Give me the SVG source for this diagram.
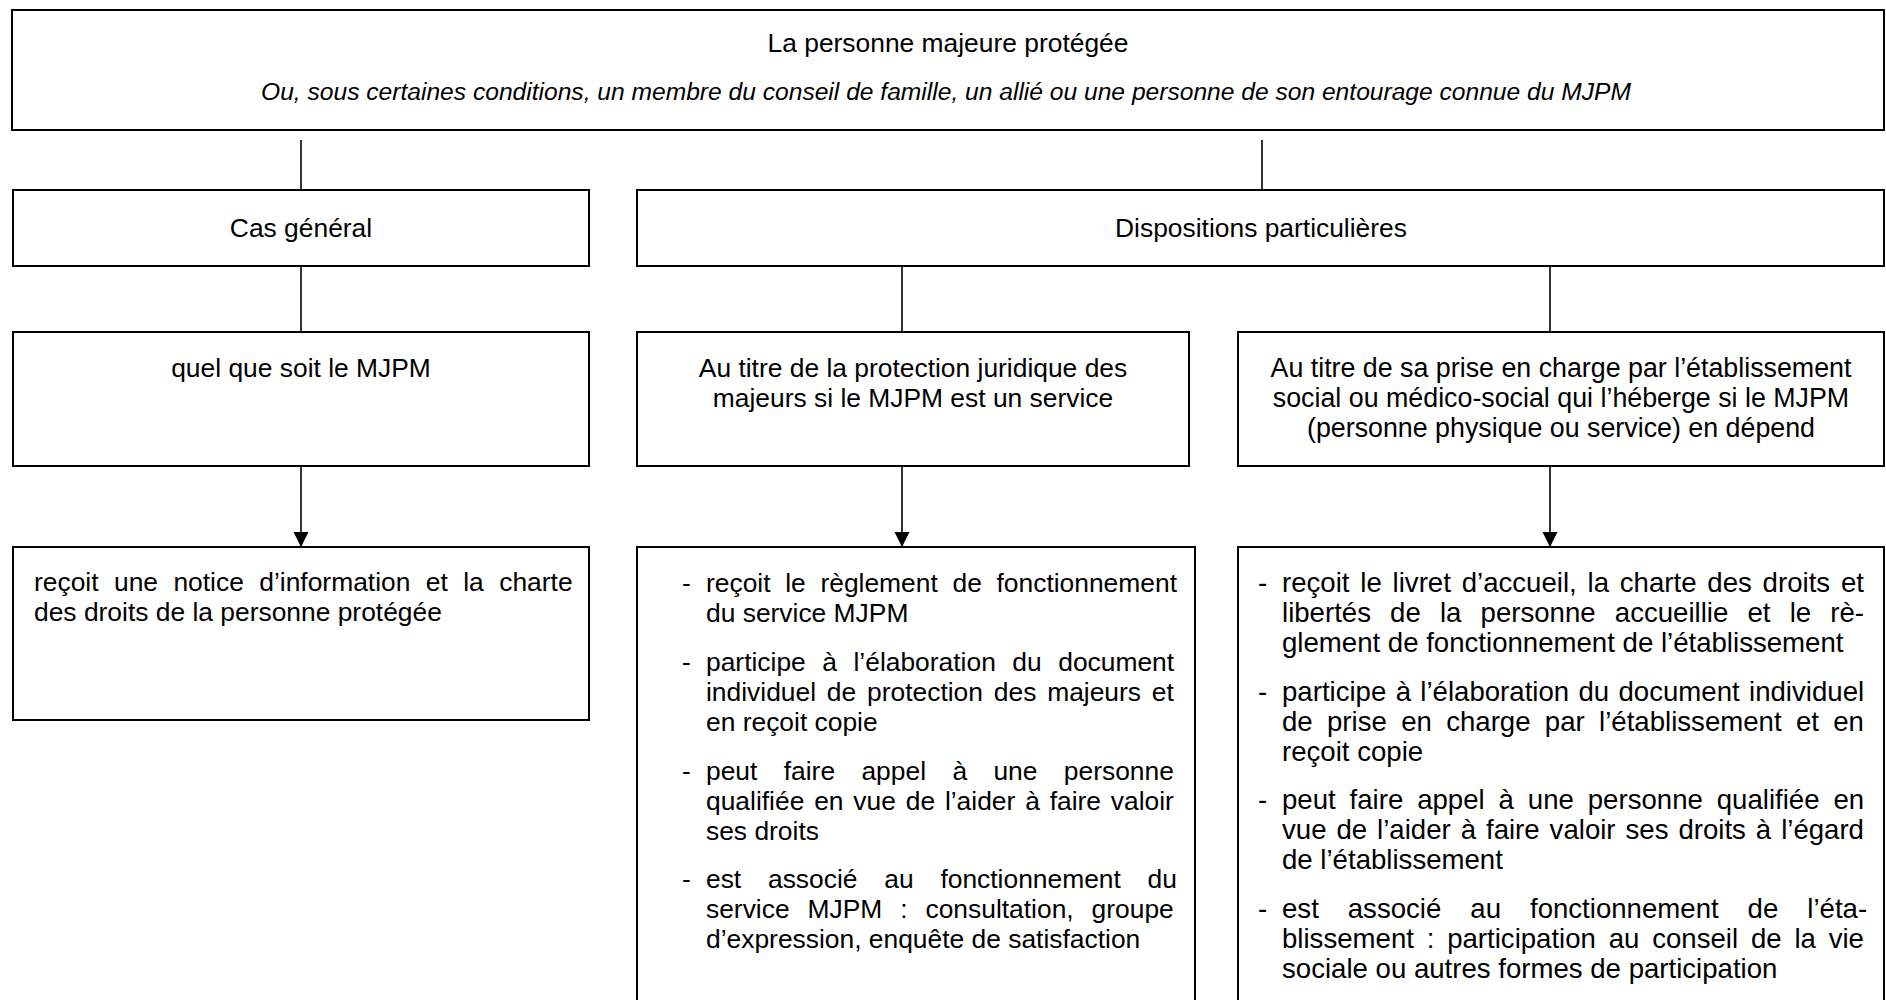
<svg xmlns="http://www.w3.org/2000/svg" width="1886" height="1000" viewBox="0 0 1886 1000">
<style>
.box{fill:#fff;stroke:#000;stroke-width:2}
.t{font-family:"Liberation Sans",Arial,sans-serif;font-size:26.4px;fill:#000;font-kerning:none}
.c{text-anchor:middle}
.i{font-style:italic;font-size:24.6px}
.b3{font-size:27.6px}
.ln{stroke:#000;stroke-width:1.6;fill:none}
</style>
<defs>
<marker id="ah" markerUnits="userSpaceOnUse" markerWidth="16" markerHeight="16" refX="15" refY="7.5" orient="auto">
<path d="M0,0 L15,7.5 L0,15 Z" fill="#000"/>
</marker>
</defs>
<rect width="1886" height="1000" fill="#fff"/>
<g id="connectors">
<line class="ln" x1="301" y1="140" x2="301" y2="189"/>
<line class="ln" x1="1262" y1="140" x2="1262" y2="189"/>
<line class="ln" x1="301" y1="266" x2="301" y2="332"/>
<line class="ln" x1="902" y1="266" x2="902" y2="332"/>
<line class="ln" x1="1550" y1="266" x2="1550" y2="332"/>
<line class="ln" x1="301" y1="466" x2="301" y2="547" marker-end="url(#ah)"/>
<line class="ln" x1="902" y1="466" x2="902" y2="547" marker-end="url(#ah)"/>
<line class="ln" x1="1550" y1="466" x2="1550" y2="547" marker-end="url(#ah)"/>
</g>
<g id="top">
<rect class="box" x="12" y="10" width="1872" height="120"/>
<text class="t c" x="948" y="52">La personne majeure protégée</text>
<text class="t c i" x="946" y="100">Ou, sous certaines conditions, un membre du conseil de famille, un allié ou une personne de son entourage connue du MJPM</text>
</g>
<g id="cas-general">
<rect class="box" x="13" y="190" width="576" height="76"/>
<text class="t c" x="301" y="237">Cas général</text>
</g>
<g id="dispositions">
<rect class="box" x="637" y="190" width="1247" height="76"/>
<text class="t c" x="1261" y="237">Dispositions particulières</text>
</g>
<g id="quel-que-soit">
<rect class="box" x="13" y="332" width="576" height="134"/>
<text class="t c" x="301" y="377">quel que soit le MJPM</text>
</g>
<g id="protection-juridique">
<rect class="box" x="637" y="332" width="552" height="134"/>
<text class="t c" x="913" y="377">Au titre de la protection juridique des</text>
<text class="t c" x="913" y="407">majeurs si le MJPM est un service</text>
</g>
<g id="etablissement">
<rect class="box" x="1238" y="332" width="646" height="134"/>
<text class="t c" x="1561" y="377" style="font-size:26.8px">Au titre de sa prise en charge par l’établissement</text>
<text class="t c" x="1561" y="407" style="font-size:26.8px">social ou médico-social qui l’héberge si le MJPM</text>
<text class="t c" x="1561" y="437" style="font-size:26.8px">(personne physique ou service) en dépend</text>
</g>
<g id="recoit-notice">
<rect class="box" x="13" y="547" width="576" height="173"/>
<text class="t" x="34" y="591" word-spacing="8.1">reçoit une notice d’information et la charte</text>
<text class="t" x="34" y="621">des droits de la personne protégée</text>
</g>
<g id="droits-service">
<rect class="box" x="637" y="547" width="558" height="470"/>
<text class="t" x="682" y="592">-</text>
<text class="t" x="706" y="592" word-spacing="7.35">reçoit le règlement de fonctionnement</text>
<text class="t" x="706" y="622">du service MJPM</text>
<text class="t" x="682" y="671">-</text>
<text class="t" x="706" y="671" word-spacing="9.2">participe à l’élaboration du document</text>
<text class="t" x="706" y="701" word-spacing="3.5">individuel de protection des majeurs et</text>
<text class="t" x="706" y="731">en reçoit copie</text>
<text class="t" x="682" y="780">-</text>
<text class="t" x="706" y="780" word-spacing="19.04">peut faire appel à une personne</text>
<text class="t" x="706" y="810" word-spacing="2.5">qualifiée en vue de l’aider à faire valoir</text>
<text class="t" x="706" y="840">ses droits</text>
<text class="t" x="682" y="888">-</text>
<text class="t" x="706" y="888" word-spacing="19.45">est associé au fonctionnement du</text>
<text class="t" x="706" y="918" word-spacing="10.6">service MJPM : consultation, groupe</text>
<text class="t" x="706" y="948">d’expression, enquête de satisfaction</text>
</g>
<g id="droits-etablissement">
<rect class="box" x="1238" y="547" width="646" height="470"/>
<text class="t b3" x="1258" y="592">-</text>
<text class="t b3" x="1282" y="592" word-spacing="3.15">reçoit le livret d’accueil, la charte des droits et</text>
<text class="t b3" x="1282" y="622" word-spacing="11.49">libertés de la personne accueillie et le rè-</text>
<text class="t b3" x="1282" y="652">glement de fonctionnement de l’établissement</text>
<text class="t b3" x="1258" y="701">-</text>
<text class="t b3" x="1282" y="701" word-spacing="1.68">participe à l’élaboration du document individuel</text>
<text class="t b3" x="1282" y="731" word-spacing="6.66">de prise en charge par l’établissement et en</text>
<text class="t b3" x="1282" y="761">reçoit copie</text>
<text class="t b3" x="1258" y="809">-</text>
<text class="t b3" x="1282" y="809" word-spacing="6.23">peut faire appel à une personne qualifiée en</text>
<text class="t b3" x="1282" y="839" word-spacing="2.29">vue de l’aider à faire valoir ses droits à l’égard</text>
<text class="t b3" x="1282" y="869">de l’établissement</text>
<text class="t b3" x="1258" y="918">-</text>
<text class="t b3" x="1282" y="918" word-spacing="21.3">est associé au fonctionnement de l’éta-</text>
<text class="t b3" x="1282" y="948" word-spacing="5.13">blissement : participation au conseil de la vie</text>
<text class="t b3" x="1282" y="978">sociale ou autres formes de participation</text>
</g>
</svg>
